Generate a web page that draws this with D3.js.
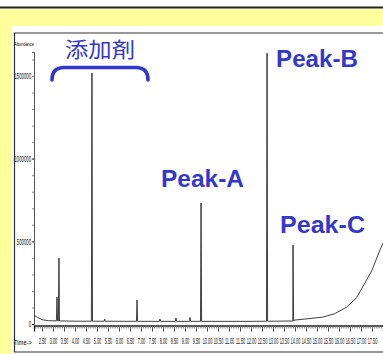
<!DOCTYPE html>
<html>
<head>
<meta charset="utf-8">
<script src="https://cdn.jsdelivr.net/npm/d3@7"></script>
<style>
  body { margin: 0; background: #fff; }
  svg { display: block; }
</style>
</head>
<body>
<svg id="chart" width="383" height="354"></svg>
<script>
// chromatogram data (time in min, abundance)
const baseline = [
  [2.14, 52000], [2.3, 40000], [2.5, 26000], [2.8, 20000], [4.0, 17000],
  [8.0, 16000], [12.0, 16000], [13.9, 18000], [14.0, 24000], [14.6, 32000],
  [15.27, 42000], [15.8, 62000], [16.36, 103000], [16.8, 160000],
  [17.18, 248000], [17.5, 326000], [17.86, 447000], [18.0, 490000]
];
const peaks = [
  { t: 3.18, h: 163000 }, { t: 3.27, h: 399000 }, { t: 4.77, h: 1518000 },
  { t: 5.35, h: 30000 }, { t: 6.82, h: 145000 }, { t: 7.86, h: 30000 },
  { t: 8.59, h: 36000 }, { t: 9.23, h: 40000 }, { t: 9.73, h: 732000 },
  { t: 12.73, h: 1638000 }, { t: 13.91, h: 478000 }
];
const yTickValues = [0, 500000, 1000000, 1500000];
const xTickLabels = ["2.50", "3.00", "3.50", "4.00", "4.50", "5.00", "5.50", "6.00",
  "6.50", "7.00", "7.50", "8.00", "8.50", "9.00", "9.50", "10.00", "10.50", "11.00",
  "11.50", "12.00", "12.50", "13.00", "13.50", "14.00", "14.50", "15.00", "15.50",
  "16.00", "16.50", "17.00", "17.50"];
const notes = ["添加剤", "Peak-A", "Peak-B", "Peak-C"];

const blue = '#3338cc';
let svg = d3.select('#chart');

// background: yellow card with white scan panel
svg.append('rect').attr('width', 383).attr('height', 354).attr('fill', '#fff');
svg.append('rect').attr('x', 0).attr('y', 9).attr('width', 383).attr('height', 345).attr('fill', '#ffff9c');
svg.append('rect').attr('x', 0).attr('y', 6.5).attr('width', 383).attr('height', 2).attr('fill', '#222');
svg.append('rect').attr('x', 12).attr('y', 26).attr('width', 371).attr('height', 328).attr('fill', '#fff');

// frame of the printout
svg.append('path')
  .attr('d', 'M383,33 L14.5,33 L14.5,352 L383,352')
  .attr('fill', 'none').attr('stroke', '#333').attr('stroke-width', 1.2);

// scales
let x = d3.scaleLinear().domain([2.136, 18.0]).range([34, 383]);
let y = d3.scaleLinear().domain([0, 1645000]).range([324, 52]);

// y axis (labels squeezed like the printer font)
const Y_SQUEEZE = 0.5;
let yAxis = svg.append('g').attr('transform', 'translate(34,0)')
  .call(d3.axisLeft(y).tickValues(yTickValues).tickSize(2).tickPadding(1).tickFormat(d3.format('d')));
yAxis.select('.domain').attr('stroke', '#555');
yAxis.selectAll('text')
  .style('font-family', 'Liberation Sans, sans-serif')
  .style('font-size', '8.5px')
  .attr('fill', '#111')
  .attr('x', -3 / Y_SQUEEZE)
  .attr('transform', `scale(${Y_SQUEEZE},1)`);
svg.append('g').attr('transform', 'translate(34,0)')
  .call(d3.axisLeft(y).tickValues(d3.range(100000, 1645000, 100000)).tickSize(2).tickFormat(''))
  .call(g => g.select('.domain').remove())
  .selectAll('line').attr('stroke', '#888');

// x axis
let xAxisY = y(0) + 1.5;
let xAxis = svg.append('g').attr('transform', `translate(0,${xAxisY})`)
  .call(d3.axisBottom(x).tickValues(xTickLabels.map(Number)).tickSize(6).tickPadding(6)
    .tickFormat((d, i) => xTickLabels[i]));
xAxis.select('.domain').attr('stroke', '#111').attr('stroke-width', 1.3);
xAxis.selectAll('line').attr('stroke', '#444');
xAxis.selectAll('text')
  .style('font-family', 'Liberation Sans, sans-serif')
  .style('font-size', '9.5px')
  .attr('fill', '#111')
  .attr('transform', 'scale(0.4,1)');
svg.append('g').attr('transform', `translate(0,${xAxisY})`)
  .call(d3.axisBottom(x).tickValues(d3.range(2.2, 18.0, 0.1)).tickSize(3).tickFormat(''))
  .call(g => g.select('.domain').remove())
  .selectAll('line').attr('stroke', '#777');

// axis titles
svg.append('text').attr('x', 14).attr('y', 46).text('Abundance')
  .style('font-family', 'Liberation Sans Narrow, sans-serif').style('font-size', '6px')
  .attr('textLength', 20).attr('lengthAdjust', 'spacingAndGlyphs');
svg.append('text').attr('x', 14).attr('y', 345).text('Time->')
  .style('font-family', 'Liberation Sans Narrow, sans-serif').style('font-size', '8px')
  .attr('textLength', 18).attr('lengthAdjust', 'spacingAndGlyphs');

// trace: baseline with narrow spikes on top
let baseAt = t => {
  let i = d3.bisector(d => d[0]).left(baseline, t);
  let a = baseline[Math.max(0, i - 1)], b = baseline[Math.min(baseline.length - 1, i)];
  if (a === b) return a[1];
  return a[1] + (b[1] - a[1]) * (t - a[0]) / (b[0] - a[0]);
};
let trace = baseline.slice();
const HALF = 0.025;
for (let p of peaks) {
  trace.push([p.t - HALF, baseAt(p.t - HALF)]);
  trace.push([p.t, p.h]);
  trace.push([p.t + HALF, baseAt(p.t + HALF)]);
}
trace.sort((a, b) => a[0] - b[0]);

svg.append('path')
  .datum(trace)
  .attr('fill', 'none')
  .attr('stroke', '#2a2a2a')
  .attr('stroke-width', 0.9)
  .attr('d', d3.line().x(d => x(d[0])).y(d => y(d[1])));

// annotations
svg.append('path')
  .attr('d', 'M52,80 Q52,67.5 64,67.5 H136 Q148,67.5 148,80')
  .attr('fill', 'none').attr('stroke', blue).attr('stroke-width', 3.6).attr('stroke-linecap', 'round');
svg.append('text').attr('x', 65).attr('y', 57).text(notes[0])
  .attr('fill', blue).style('font-family', 'Noto Sans CJK JP').style('font-size', '21px')
  .attr('textLength', 70).attr('lengthAdjust', 'spacingAndGlyphs');

let peakLabels = [
  { text: notes[1], x: 161, y: 187, w: 83 },
  { text: notes[2], x: 276, y: 67, w: 82 },
  { text: notes[3], x: 280, y: 233, w: 85 }
];
svg.selectAll('.peak-label')
  .data(peakLabels)
  .enter()
  .append('text')
  .attr('class', 'peak-label')
  .attr('x', d => d.x).attr('y', d => d.y)
  .attr('fill', blue)
  .style('font-family', 'Liberation Sans, sans-serif')
  .style('font-weight', 'bold')
  .style('font-size', '24px')
  .attr('textLength', d => d.w)
  .attr('lengthAdjust', 'spacingAndGlyphs')
  .text(d => d.text);
</script>
</body>
</html>
